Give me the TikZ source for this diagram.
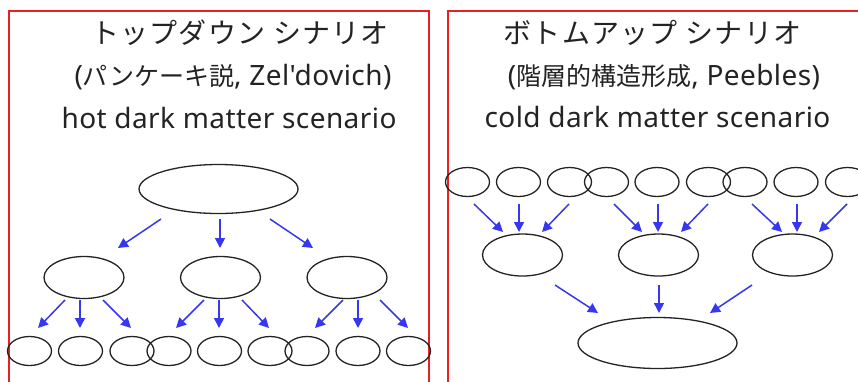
\documentclass[tikz,border=0pt]{standalone}
\usepackage{fontspec}
\setmainfont{Noto Sans}
\newfontfamily\latfont{Noto Sans}[LetterSpace=1.5]
\newfontfamily\jpfont{Noto Sans CJK JP}[LetterSpace=4.6]
\newfontfamily\jpsmall{Noto Sans CJK JP}
\usetikzlibrary{shapes.geometric,arrows.meta}
\definecolor{boxred}{RGB}{235,30,35}
\definecolor{arrblue}{RGB}{55,55,240}
\definecolor{ink}{RGB}{35,35,35}
\newcommand{\jpin}[1]{{\jpsmall\fontsize{25}{30}\selectfont #1}}
\begin{document}
\begin{tikzpicture}[x=1pt,y=-1pt,
  blob/.style={draw=ink, line width=1.3pt, ellipse, inner sep=0pt},
  big/.style={blob, minimum width=159pt, minimum height=49pt},
  mid/.style={blob, minimum width=80pt, minimum height=42pt},
  small/.style={blob, minimum width=44pt, minimum height=29pt},
  arr/.style={draw=arrblue, line width=1.5pt, -{Triangle[length=10pt,width=10pt]}},
  frame/.style={draw=boxred, line width=1.5pt},
  title/.style={anchor=base, font=\latfont\fontsize{28}{30}\selectfont, text=ink, inner sep=0pt},
  jtitle/.style={title, font=\jpfont\fontsize{28}{30}\selectfont}]
\useasboundingbox (0,0) rectangle (858,381);
% frames
\coordinate (fl1) at (9,400); \coordinate (fl2) at (9,11);
\coordinate (fl3) at (429,11); \coordinate (fl4) at (429,400);
\draw[frame] (fl1) -- (fl2) -- (fl3) -- (fl4);
\coordinate (fr1) at (448,400); \coordinate (fr2) at (448,11);
\coordinate (fr3) at (870,11);
\draw[frame] (fr1) -- (fr2) -- (fr3);
% titles
\node[jtitle] (l1) at (240,43) {トップダウン シナリオ};
\node[title] (l2) at (233,85) {(\jpin{パンケーキ説}, Zel\symbol{"27}dovich)};
\node[title] (l3) at (229,128) {hot dark matter scenario};
\node[jtitle] (r1) at (652.5,43) {ボトムアップ シナリオ};
\node[title] (r2) at (664,85) {(\jpin{階層的構造形成}, Peebles)};
\node[title] (r3) at (657.5,127) {cold dark matter scenario};
% left: top-down
\node[big] (T) at (218.5,189) {};
\node[mid] (M1) at (84,277.5) {};
\node[mid] (M2) at (220.5,277.5) {};
\node[mid] (M3) at (347,277.5) {};
\foreach \i/\x in {1/29.5,2/80.5,3/132,4/169,5/219.5,6/270,7/307,8/358,9/408.5}
  \node[small] (B\i) at (\x,351) {};
% right: bottom-up
\foreach \i/\x in {1/467.5,2/518.5,3/569.5,4/606.5,5/657,6/708.5,7/745,8/796,9/847.5}
  \node[small] (S\i) at (\x,182) {};
\node[mid] (N1) at (522.5,255) {};
\node[mid] (N2) at (658.5,255) {};
\node[mid] (N3) at (792.5,255) {};
\node[big, minimum height=51pt] (G) at (657.5,343) {};
% arrows
\foreach \n/\ax/\ay/\bx/\by in {
  1/161/219/118/248, 2/220/219/220/248, 3/270/219/313/248,
  4/65/300/38/328, 5/80/300/80/328, 6/103/300/131/328,
  7/204/300/176/328, 8/219/300/219/328, 9/242/300/269/328,
  10/343/300/315/328, 11/358/300/358/328, 12/380/300/408/328,
  13/474/204/503/232, 14/519/204/519/232, 15/569/204/542/232,
  16/614/204/642/232, 17/658/204/658/232, 18/708/204/681/232,
  19/752/204/782/232, 20/797/204/797/232, 21/847/204/819/232,
  22/555/285/598/313, 23/659/285/659/313, 24/752/285/710/313} {
  \coordinate (s\n) at (\ax,\ay);
  \coordinate (e\n) at (\bx,\by);
  \draw[arr] (s\n) -- (e\n);
}
\end{tikzpicture}
\end{document}
